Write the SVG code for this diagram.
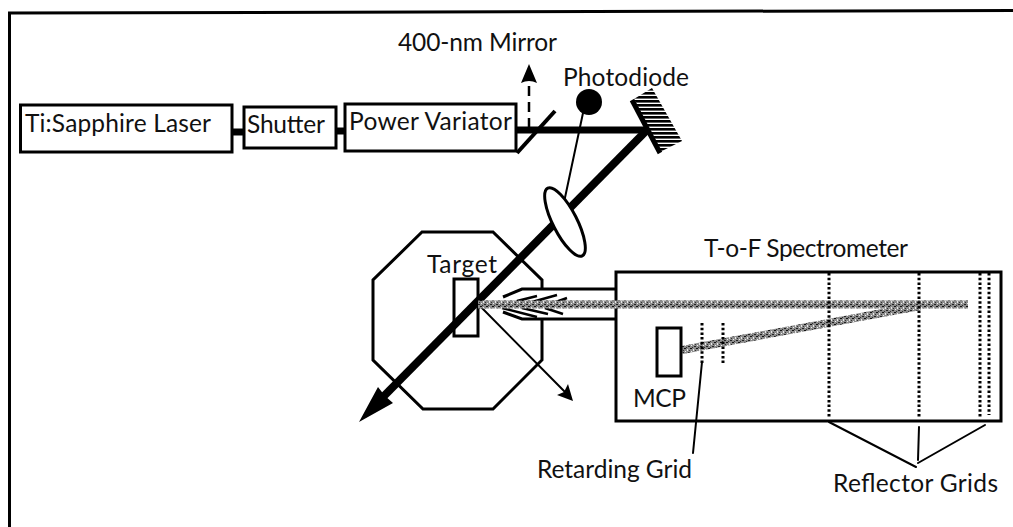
<svg xmlns="http://www.w3.org/2000/svg" width="1013" height="527" viewBox="0 0 1013 527">
<style>
text{font-family:"Lato","Noto Sans",sans-serif;font-size:24.500px;fill:#111}
.box{fill:#fff;stroke:#000;stroke-width:3}
.open{fill:none;stroke:#000;stroke-width:3}
.thin{fill:none;stroke:#000;stroke-width:2;stroke-linecap:round}
.beam{fill:none;stroke:#000;stroke-width:7}
.dot{fill:none;stroke:#000;stroke-width:3;stroke-dasharray:2.5 2.2}
.sig{fill:none;stroke:url(#speckle);stroke-width:8}
.streak{fill:none;stroke:#000;stroke-width:2.500}
</style>
<defs>
<pattern id="speckle" width="6" height="6" patternUnits="userSpaceOnUse">
<rect width="6" height="6" fill="#8c8c8c"/>
<rect x="0" y="0" width="2" height="1" fill="#111"/><rect x="3" y="1" width="1" height="2" fill="#e8e8e8"/>
<rect x="1" y="3" width="1" height="1" fill="#eee"/><rect x="4" y="4" width="2" height="1" fill="#222"/>
<rect x="2" y="5" width="1" height="1" fill="#333"/><rect x="5" y="2" width="1" height="1" fill="#333"/>
</pattern>
<pattern id="hatch" width="8" height="4" patternUnits="userSpaceOnUse">
<rect width="8" height="2.6" fill="#000"/>
</pattern>
</defs>
<path id="frame" d="M1013 10.500L9.500 13V527" class="open"/>
<g id="chamber"><polygon points="422,232 493,232 542,280 542,360 493,409 423,409 373,360 373,280" class="open"/></g>
<g id="target"><rect x="454" y="279" width="24" height="57" class="open"/><text x="427" y="273" textLength="70">Target</text></g>
<g id="extraction-tube">
<path d="M503 297L522 289H615V319H522L503 312" fill="#fff" stroke="none"/>
<path d="M503 297L522 289H615M503 312L522 319H615" fill="none" stroke="#000" stroke-width="3"/>
<path d="M517 301L537 296M532 302L557 295M553 303L567 298M502 308L537 317M522 308L548 314M545 308L563 314" class="streak"/>
</g>
<g id="connectors">
<path d="M232 132H244" class="beam"/>
<path d="M336 131H345" class="beam"/>
<path d="M516 130H648" class="beam"/>
<path d="M529 128V80" fill="none" stroke="#000" stroke-width="2.500" stroke-dasharray="10 6"/>
<path d="M529 64L537 83Q529 79 521 83Z" fill="#000"/>
<path d="M583 113L563 207" class="thin"/>
<path d="M648 129L384 396" fill="none" stroke="#000" stroke-width="8"/>
<path d="M359 422L378 387L385 396L393 403Z" fill="#000"/>
<path d="M478 304L566 393" class="thin"/>
<path d="M573 401L568 384L564 392L557 395Z" fill="#000"/>
<path d="M702 362L693 453" class="thin"/>
<path d="M829 422L916 467M919 427L918 460M985 425L918 463" class="thin"/>
</g>
<g id="ti-sapphire-laser"><rect x="20.500" y="105" width="211.500" height="47" class="box"/><text x="25" y="132" textLength="186">Ti:Sapphire Laser</text></g>
<g id="shutter"><rect x="244" y="107" width="92" height="41" class="box"/><text x="247" y="133" textLength="78">Shutter</text></g>
<g id="power-variator"><rect x="345" y="104" width="171" height="47" class="box"/><text x="349" y="130" textLength="163">Power Variator</text></g>
<g id="mirror-400nm"><path d="M517 153L555 111" fill="none" stroke="#000" stroke-width="4"/><text x="398" y="51" textLength="159">400-nm Mirror</text></g>
<g id="photodiode"><circle cx="589" cy="102" r="13" fill="#000"/><text x="563" y="86" textLength="126">Photodiode</text></g>
<g id="steering-mirror"><polygon points="634,99 652,88 682,141 660,152" fill="url(#hatch)"/><path d="M632 100L660 153" fill="none" stroke="#000" stroke-width="5"/></g>
<g id="lens"><ellipse cx="565" cy="222" rx="12" ry="38" transform="rotate(-27 565 222)" class="box"/></g>
<g id="spectrometer"><rect x="616" y="272" width="385" height="149" class="open"/><text x="704" y="257" textLength="204">T-o-F Spectrometer</text></g>
<g id="ion-path"><path d="M478 304.500H968" class="sig"/><path d="M920 306L682 350" class="sig"/></g>
<g id="mcp"><rect x="657" y="328" width="24" height="48" class="open"/><text x="633" y="407" textLength="53">MCP</text></g>
<g id="retarding-grid"><path d="M702 323V363M723 323V363" class="dot"/><text x="537" y="478" textLength="155">Retarding Grid</text></g>
<g id="reflector-grids"><path d="M829 273V417M919 273V417M980 273V417M989 273V415" class="dot"/><text x="833" y="492" textLength="165">Reflector Grids</text></g>
</svg>
